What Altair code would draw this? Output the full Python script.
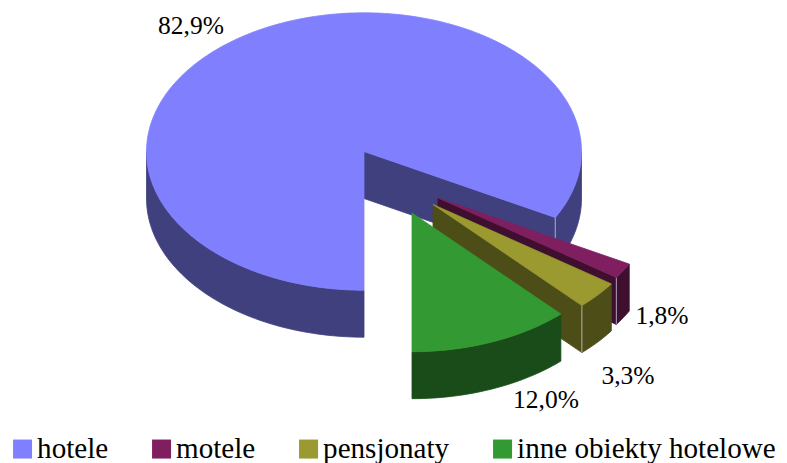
import math
import altair as alt
import pandas as pd

names = ["hotele", "motele", "pensjonaty", "inne obiekty hotelowe"]
shares = [82.9, 1.8, 3.3, 12.0]
labels = ["82,9%", "1,8%", "3,3%", "12,0%"]
top_colors = ["#8080FF", "#7F1F5F", "#9A9A30", "#339933"]
side_colors = ["#40407F", "#3F0F2F", "#4D4D18", "#194C19"]

# layout of the tilted pie
RX, RY, DEPTH = 217.5, 138.7, 47
apex = [(364, 151.5), (438, 198), (433, 204.5), (412, 213)]
label_pos = [(191, 26), (662, 316), (628, 376), (546, 400)]

# slice angles, clockwise from 6 o'clock, derived from the shares
starts = []
a = 90.0
for s in shares:
    starts.append(a)
    a += s * 3.6
ends = [st + s * 3.6 for st, s in zip(starts, shares)]


def rim(c, t, dz=0):
    r = math.radians(t)
    return (c[0] + RX * math.cos(r), c[1] + RY * math.sin(r) + dz)


def arc(c, t0, t1, dz=0):
    n = max(2, int(abs(t1 - t0) / 1.5))
    return [rim(c, t0 + (t1 - t0) * i / n, dz) for i in range(n + 1)]


W, H = 771, 455
xs = alt.Scale(domain=[8, 8 + W], range=[0, W])
ys = alt.Scale(domain=[8, 8 + H], range=[0, H])
NOAX = None


def poly(points, color, closed=True, width=0.8):
    pts = list(points) + ([points[0]] if closed else [])
    df = pd.DataFrame({"x": [p[0] for p in pts], "y": [p[1] for p in pts], "seq": range(len(pts))})
    mk = dict(stroke=color, strokeWidth=width, interpolate="linear", clip=False)
    if closed:
        mk["fill"] = color
    return alt.Chart(df).mark_line(**mk).encode(
        x=alt.X("x:Q", scale=xs, axis=NOAX),
        y=alt.Y("y:Q", scale=ys, axis=NOAX),
        order="seq:O",
    )


def outer_wall(c, t0, t1, col):
    return poly(arc(c, t0, t1) + arc(c, t1, t0, DEPTH), col)


def cut_wall(c, t, col):
    return poly([c, rim(c, t), rim(c, t, DEPTH), (c[0], c[1] + DEPTH)], col)


def top(c, t0, t1, col):
    return poly([c] + arc(c, t0, t1), col)


def edge(c, t):
    return poly([rim(c, t), rim(c, t, DEPTH)], "#C8C8D8", closed=False, width=0.8)


layers = []
# hotele
c = apex[0]
t_end = ends[0] - 360
layers += [
    outer_wall(c, 90, 180, side_colors[0]),
    outer_wall(c, 0, t_end, side_colors[0]),
    cut_wall(c, t_end, side_colors[0]),
    top(c, starts[0], ends[0], top_colors[0]),
    edge(c, t_end),
]
# motele, pensjonaty, inne: back to front
for i in (1, 2, 3):
    c = apex[i]
    t0 = starts[i] - 360 if starts[i] >= 360 else starts[i]
    t1 = t0 + shares[i] * 3.6
    layers.append(outer_wall(c, t0, t1, side_colors[i]))
    if i != 3:
        layers.append(cut_wall(c, t1, side_colors[i]))
        layers.append(edge(c, t1))
    layers.append(top(c, t0, t1, top_colors[i]))

text_df = pd.DataFrame({"x": [p[0] for p in label_pos], "y": [p[1] for p in label_pos], "t": labels})
layers.append(
    alt.Chart(text_df).mark_text(font="Liberation Serif", fontSize=25.5, color="black", align="center", baseline="middle").encode(
        x=alt.X("x:Q", scale=xs, axis=NOAX),
        y=alt.Y("y:Q", scale=ys, axis=NOAX),
        text="t:N",
    )
)

leg_df = pd.DataFrame({"name": names, "x": [c[0]] * 4, "y": [c[1]] * 4})
layers.append(
    alt.Chart(leg_df).mark_square(size=1, opacity=0).encode(
        x=alt.X("x:Q", scale=xs, axis=NOAX),
        y=alt.Y("y:Q", scale=ys, axis=NOAX),
        color=alt.Color(
            "name:N",
            scale=alt.Scale(domain=names, range=top_colors),
            legend=alt.Legend(
                title=None,
                orient="none",
                legendX=0,
                legendY=426.5,
                direction="horizontal",
                columns=4,
                gridAlign="none",
                columnPadding=38,
                symbolType="square",
                symbolSize=361,
                symbolOpacity=1,
                symbolStrokeWidth=0,
                labelFont="Liberation Serif",
                labelFontSize=29.1,
                labelColor="black",
                labelLimit=0,
                labelOffset=0,
            ),
        ),
    )
)

chart = alt.layer(*layers).properties(
    width=W, height=H, padding=0, autosize=alt.AutoSizeParams(type="none")
).configure_view(stroke=None)

chart.save("out.html", embed_options={"renderer": "svg", "actions": False})
